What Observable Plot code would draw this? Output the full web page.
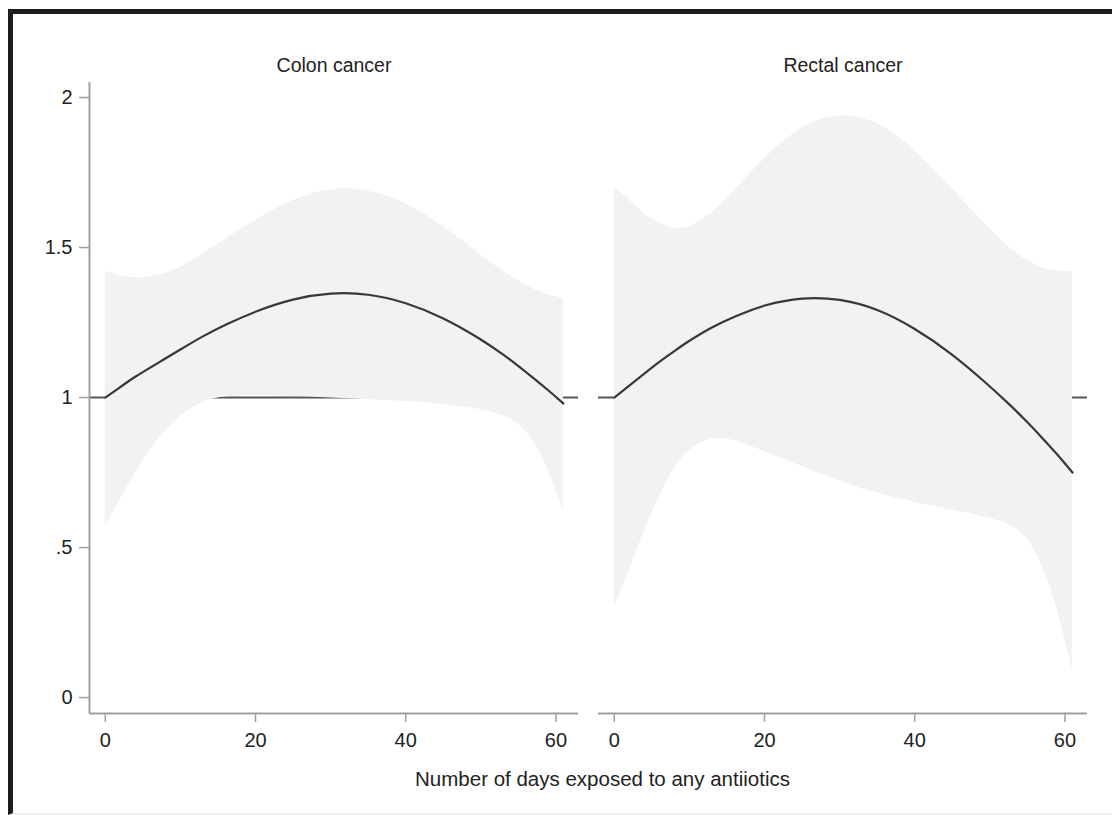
<!DOCTYPE html>
<html>
<head>
<meta charset="utf-8">
<script src="https://cdn.jsdelivr.net/npm/d3@7"></script>
<script src="https://cdn.jsdelivr.net/npm/@observablehq/plot@0.6"></script>
<style>
  html, body { margin: 0; padding: 0; background: #fff; }
  #wrap { position: relative; width: 1112px; height: 815px; overflow: hidden; }
  #chart { position: absolute; left: 0; top: 0; }
  #frame { position: absolute; left: 8px; top: 9px; width: 1104px; height: 806px; box-sizing: border-box;
           border-top: 5px solid #1e1e1e; border-left: 5px solid #1e1e1e; border-bottom: 2px solid #eeeeee; pointer-events: none; }
</style>
</head>
<body>
<div id="wrap"><div id="chart"></div><div id="frame"></div></div>
<script>
// ---- data ----
const panels = ["Colon cancer", "Rectal cancer"];
const days = [0, 2, 4, 6, 8, 10, 13, 16, 20, 25, 30, 35, 40, 45, 50, 53, 55, 57, 59, 61];
const colonEst = [1.00, 1.035, 1.07, 1.10, 1.13, 1.16, 1.205, 1.243, 1.288, 1.33, 1.35, 1.347, 1.318, 1.267, 1.195, 1.143, 1.105, 1.065, 1.024, 0.98];
const colonLo  = [0.57, 0.66, 0.75, 0.83, 0.89, 0.94, 0.99, 1.005, 1.008, 1.005, 0.998, 0.993, 0.988, 0.978, 0.962, 0.942, 0.915, 0.86, 0.765, 0.62];
const colonHi  = [1.42, 1.405, 1.398, 1.40, 1.412, 1.432, 1.478, 1.528, 1.592, 1.662, 1.70, 1.695, 1.652, 1.573, 1.474, 1.42, 1.388, 1.36, 1.342, 1.33];
const rectalEst = [1.00, 1.04, 1.08, 1.12, 1.155, 1.19, 1.235, 1.27, 1.31, 1.335, 1.33, 1.297, 1.232, 1.146, 1.038, 0.968, 0.918, 0.865, 0.81, 0.75];
const rectalLo  = [0.30, 0.42, 0.56, 0.67, 0.77, 0.83, 0.87, 0.86, 0.82, 0.77, 0.72, 0.68, 0.65, 0.625, 0.60, 0.575, 0.535, 0.445, 0.30, 0.09];
const rectalHi  = [1.70, 1.66, 1.61, 1.58, 1.56, 1.565, 1.61, 1.69, 1.80, 1.91, 1.95, 1.925, 1.83, 1.695, 1.56, 1.49, 1.455, 1.43, 1.42, 1.42];
const xTicks = [0, 20, 40, 60];
const yTicks = [0, 0.5, 1, 1.5, 2];
const yTickLabels = ["0", ".5", "1", "1.5", "2"];
const refValue = 1;
const xTitle = "Number of days exposed to any antiiotics";

// ---- table ----
const rows = [];
days.forEach((d, i) => {
  rows.push({panel: panels[0], day: d, est: colonEst[i], lo: colonLo[i], hi: colonHi[i]});
  rows.push({panel: panels[1], day: d, est: rectalEst[i], lo: rectalLo[i], hi: rectalHi[i]});
});

const xDomain = [-2.1, 63];
const yDomain = [-0.053, 2.05];
const axisGray = "#a0a0a0";
const textColor = "#222";

const chart = Plot.plot({
  width: 1112,
  height: 815,
  marginLeft: 88,
  marginRight: 25,
  marginTop: 82,
  marginBottom: 102,
  style: {fontFamily: "'Liberation Sans', Arial, Helvetica, sans-serif", fontSize: "20px", color: textColor, background: "transparent"},
  fx: {domain: panels, paddingInner: 0.0393, paddingOuter: 0, label: null},
  x: {domain: xDomain},
  y: {domain: yDomain},
  marks: [
    // reference line at 1 (under the band)
    Plot.ruleY([refValue], {stroke: "#555", strokeWidth: 2}),
    // confidence band
    Plot.areaY(rows, {fx: "panel", x: "day", y1: "lo", y2: "hi", fill: "#f2f2f2", curve: "basis"}),
    // estimate curve
    Plot.line(rows, {fx: "panel", x: "day", y: "est", stroke: "#383838", strokeWidth: 2.2, curve: "basis"}),
    // axis lines
    Plot.ruleY([yDomain[0]], {stroke: axisGray, strokeWidth: 2}),
    Plot.ruleX([xDomain[0]], {fx: () => panels[0], stroke: axisGray, strokeWidth: 2}),
    // axes
    Plot.axisY({ticks: yTicks, tickFormat: (d) => yTickLabels[yTicks.indexOf(d)], tickSize: 10, tickPadding: 7,
                stroke: axisGray, strokeWidth: 1.5, fill: textColor, label: null, fontSize: 20}),
    Plot.axisX({ticks: xTicks, tickSize: 9, tickPadding: 10, stroke: axisGray, strokeWidth: 1.5, fill: textColor,
                label: null, fontSize: 20}),
    Plot.axisFx({anchor: "top", tickSize: 0, tickPadding: 11, label: null, fontSize: 19.5, fill: textColor}),
    // x axis title spanning both panels
    Plot.text([xTitle], {fx: () => panels[0], text: (d) => d, frameAnchor: "bottom-right", dx: 24, dy: 72,
                         textAnchor: "middle", fontSize: 20.5, fill: textColor})
  ]
});
document.getElementById("chart").appendChild(chart);
</script>
</body>
</html>
